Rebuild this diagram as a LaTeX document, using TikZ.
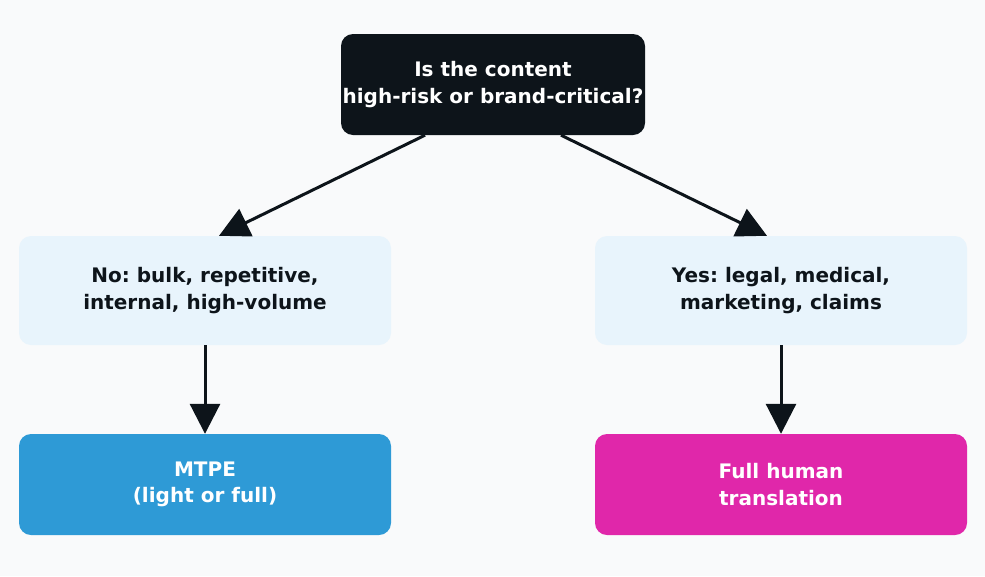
\documentclass[tikz,border=0pt]{standalone}
\usepackage{fontspec}
\setmainfont{DejaVu Sans}
\usetikzlibrary{arrows.meta}
\definecolor{bg}{HTML}{F9FAFB}
\definecolor{ink}{HTML}{0D141A}
\definecolor{pale}{HTML}{E8F4FC}
\definecolor{mtpe}{HTML}{2E9AD6}
\definecolor{human}{HTML}{E027AA}
\frenchspacing
\tikzset{
  box/.style={rounded corners=12pt, inner sep=0pt, align=center,
    font=\fontsize{20pt}{26.5pt}\selectfont\bfseries\frenchspacing},
  qbox/.style={box, fill=ink, text=white, minimum width=304pt, minimum height=101pt},
  optbox/.style={box, fill=pale, text=ink, minimum width=372pt, minimum height=109pt},
  resbox/.style={box, text=white, minimum width=372pt, minimum height=101pt},
  conn/.style={draw=ink, line width=3pt, -{Triangle[length=30pt,width=30pt]}},
}
\begin{document}
\begin{tikzpicture}[x=1pt,y=-1pt]
\fill[bg] (0,0) rectangle (985,576);
\useasboundingbox (0,0) rectangle (985,576);
\node[qbox] (q) at (493,84.5) {Is the content\\high-risk or brand-critical?};
\node[optbox] (no) at (205,290.5) {No: bulk, repetitive,\\internal, high-volume};
\node[optbox] (yes) at (781,290.5) {Yes: legal, medical,\\marketing, claims};
\node[resbox, fill=mtpe] (mt) at (205,484.5) {MTPE\\(light or full)};
\node[resbox, fill=human] (fh) at (781,484.5) {Full human\\translation};
\draw[conn] ([xshift=-68pt]q.south) -- ([xshift=14pt]no.north);
\draw[conn] ([xshift=68pt]q.south) -- ([xshift=-14pt]yes.north);
\draw[conn] (no.south) -- (mt.north);
\draw[conn] (yes.south) -- (fh.north);
\end{tikzpicture}
\end{document}
